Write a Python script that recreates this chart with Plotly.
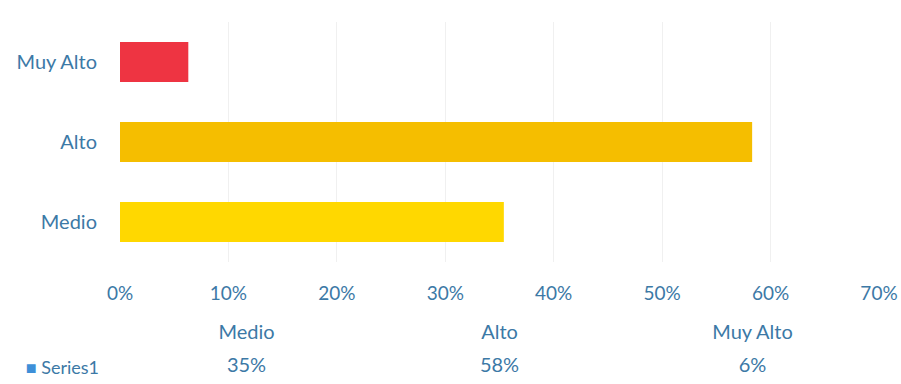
import plotly.graph_objects as go

# datos
categorias = ['Medio', 'Alto', 'Muy Alto']
valores = [0.354, 0.583, 0.063]
colores = ['#FFD800', '#F5BE00', '#EE3442']
serie = 'Series1'

txt_color = '#3C79A6'
fuente = 'Lato'

fig = go.Figure()

# barras
fig.add_trace(go.Bar(
    y=categorias, x=valores, orientation='h',
    marker=dict(color=colores, line=dict(width=0)),
    showlegend=False, hoverinfo='x+y',
))

# tabla de datos bajo el eje
fig.add_trace(go.Scatter(
    x=categorias, y=['cab'] * len(categorias),
    mode='text', text=categorias,
    textfont=dict(size=20, color=txt_color, family=fuente),
    xaxis='x2', yaxis='y2', showlegend=False, hoverinfo='skip',
))
fig.add_trace(go.Scatter(
    x=categorias, y=['val'] * len(categorias),
    mode='text', text=[f'{v:.0%}' for v in valores],
    textfont=dict(size=20, color=txt_color, family=fuente),
    xaxis='x2', yaxis='y2', showlegend=False, hoverinfo='skip',
))

fig.update_layout(
    width=901, height=384,
    margin=dict(l=120, r=22, t=0, b=0),
    paper_bgcolor='white', plot_bgcolor='white',
    font=dict(family=fuente, color=txt_color),
    bargap=0.5,
    xaxis=dict(
        range=[0, 0.7], dtick=0.1, tickformat='.0%',
        showgrid=True, gridcolor='#F0F0F0', gridwidth=1,
        zeroline=False, showline=False,
        tickfont=dict(size=19, color=txt_color),
        ticklabelstandoff=18, anchor='y',
    ),
    yaxis=dict(
        domain=[0.318, 0.943],
        showgrid=False, zeroline=False, showline=False,
        tickfont=dict(size=20, color=txt_color),
        ticklabelstandoff=22,
    ),
    xaxis2=dict(
        domain=[0, 1], anchor='y2', type='category',
        categoryorder='array', categoryarray=categorias,
        range=[-0.5, 2.5],
        showticklabels=False, showgrid=False, zeroline=False,
    ),
    yaxis2=dict(
        domain=[0, 0.172], anchor='x2', type='category',
        categoryorder='array', categoryarray=['val', 'cab'],
        range=[-0.5, 1.5],
        tickvals=['val', 'cab'],
        ticktext=[f"<span style='color:#3E8FD8'>■</span> {serie}", ''],
        tickfont=dict(size=18, color=txt_color),
        showgrid=False, zeroline=False, ticklabelstandoff=20,
    ),
)

fig.write_html('out.html', config={'displayModeBar': False},
               post_script="document.body.style.margin='0px';")
